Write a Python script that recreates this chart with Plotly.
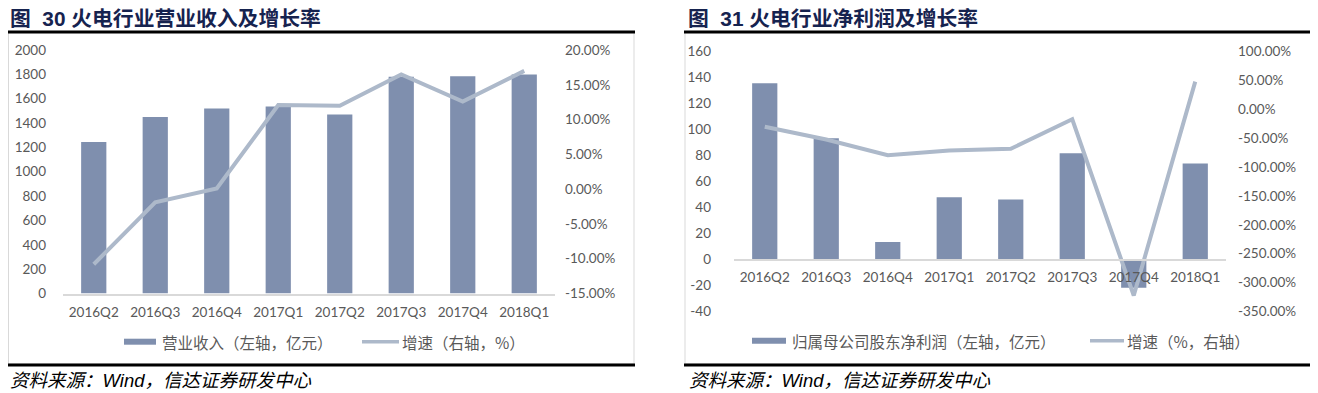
import plotly.graph_objects as go

# ---------------- data ----------------
categories = ["2016Q2", "2016Q3", "2016Q4", "2017Q1", "2017Q2", "2017Q3", "2017Q4", "2018Q1"]
revenue = [1245, 1450, 1520, 1535, 1470, 1780, 1785, 1798]          # 亿元
revenue_growth = [-10.8, -1.9, 0.1, 12.1, 12.0, 16.5, 12.6, 17.0]     # %
profit = [135.2, 93.0, 13.5, 47.7, 46.0, 81.5, -21.6, 73.6]          # 亿元
profit_growth = [-31, -53, -80, -72, -69, -18, -322, 47]             # %

rev_ticks = [0, 200, 400, 600, 800, 1000, 1200, 1400, 1600, 1800, 2000]
rev_growth_ticks = [-15, -10, -5, 0, 5, 10, 15, 20]
profit_ticks = [-40, -20, 0, 20, 40, 60, 80, 100, 120, 140, 160]
profit_growth_ticks = [-350, -300, -250, -200, -150, -100, -50, 0, 50, 100]

title_left = "图\u00a0\u00a030 火电行业营业收入及增长率"
title_right = "图\u00a0\u00a031 火电行业净利润及增长率"
legend_left = ["营业收入（左轴，亿元）", "增速（右轴，%）"]
legend_right = ["归属母公司股东净利润（左轴，亿元）", "增速（%，右轴）"]
source_text = "资料来源：Wind，信达证券研发中心"

# ---------------- helpers ----------------
# The page body has an 8px margin, so the figure is drawn 8px in and sized to fit the window.
OFF = 8
W, H = 1318 - OFF, 393 - OFF
def X(px):
    return (px - OFF) / W
def Y(py):
    return 1 - (py - OFF) / H

BAR = "#7F8FAE"
LINE = "#ADB9CA"
GRAY_TXT = "#595959"
AXIS = "#D9D9D9"
NAVY = "#16234F"

tickfont = dict(family="Lato, Liberation Sans, sans-serif", size=13.5, color=GRAY_TXT)

def num_label(v):
    return f"{v}".replace("\u2212", "-")

def pct_label(v):
    return f"{v:.2f}%"

fig = go.Figure()

fig.add_trace(go.Bar(x=categories, y=revenue, xaxis="x", yaxis="y",
                     marker=dict(color=BAR, line=dict(width=0)), name=legend_left[0]))
fig.add_trace(go.Scatter(x=categories, y=revenue_growth, xaxis="x", yaxis="y2", mode="lines",
                         line=dict(color=LINE, width=4), name=legend_left[1]))
fig.add_trace(go.Bar(x=categories, y=profit, xaxis="x2", yaxis="y3",
                     marker=dict(color=BAR, line=dict(width=0)), name=legend_right[0]))
fig.add_trace(go.Scatter(x=categories, y=profit_growth, xaxis="x2", yaxis="y4", mode="lines",
                         line=dict(color=LINE, width=4), name=legend_right[1]))

# left chart geometry (page pixels)
L_x0, L_x1 = 63, 555
L_ybot, L_ytop = 293.5, 50
# right chart geometry
R_x0, R_x1 = 734, 1226
R_ybot, R_ytop = 311.7, 50.9
R_zero = 259.5

common_y = dict(showgrid=False, zeroline=False, showline=False, ticks="", tickfont=tickfont,
                automargin=False)

fig.update_layout(
    width=W, height=H,
    margin=dict(l=0, r=0, t=0, b=0, autoexpand=False),
    paper_bgcolor="white", plot_bgcolor="rgba(0,0,0,0)",
    showlegend=False,
    bargap=0.59,
    xaxis=dict(domain=[X(L_x0), X(L_x1)], anchor="y", showline=True, linecolor=AXIS, linewidth=1.5,
               ticks="", showgrid=False, tickfont=tickfont, ticklabelstandoff=6, automargin=False),
    yaxis=dict(domain=[Y(L_ybot), Y(L_ytop)], range=[0, 2000], tickvals=rev_ticks,
               ticktext=[num_label(v) for v in rev_ticks], ticklabelstandoff=16, **common_y),
    yaxis2=dict(overlaying="y", side="right", anchor="x", range=[-15, 20], tickvals=rev_growth_ticks,
                ticktext=[pct_label(v) for v in rev_growth_ticks], ticklabelstandoff=9, **common_y),
    xaxis2=dict(domain=[X(R_x0), X(R_x1)], anchor="free", position=Y(R_zero), showline=True,
                linecolor=AXIS, linewidth=1.5, ticks="", showgrid=False, tickfont=tickfont,
                ticklabelstandoff=6, automargin=False),
    yaxis3=dict(domain=[Y(R_ybot), Y(R_ytop)], anchor="x2", range=[-40, 160], tickvals=profit_ticks,
                ticktext=[num_label(v) for v in profit_ticks], ticklabelstandoff=22, **common_y),
    yaxis4=dict(overlaying="y3", side="right", anchor="x2", range=[-350, 100],
                tickvals=profit_growth_ticks, ticktext=[pct_label(v) for v in profit_growth_ticks],
                ticklabelstandoff=11, **common_y),
)

shapes = []
# panel borders
for (bx0, bx1) in [(8.5, 634), (685, 1314)]:
    shapes.append(dict(type="rect", xref="paper", yref="paper", x0=X(bx0), x1=X(bx1), y0=Y(364), y1=Y(32),
                       line=dict(color="#D9D9D9", width=1), fillcolor="rgba(0,0,0,0)", layer="below"))
# thick black rules
for (lx0, lx1) in [(8, 635), (684, 1318)]:
    for ly in (32, 365):
        shapes.append(dict(type="line", xref="paper", yref="paper", x0=X(lx0), x1=X(lx1), y0=Y(ly), y1=Y(ly),
                           line=dict(color="black", width=3)))
# legend symbols
for (rx0, rx1, ly) in [(124, 156, 341.7), (752, 786, 340.7)]:
    shapes.append(dict(type="rect", xref="paper", yref="paper", x0=X(rx0), x1=X(rx1), y0=Y(ly + 3), y1=Y(ly - 3),
                       line=dict(width=0), fillcolor=BAR))
for (lx0, lx1, ly) in [(362, 399, 341.7), (1090, 1124, 340.7)]:
    shapes.append(dict(type="line", xref="paper", yref="paper", x0=X(lx0), x1=X(lx1), y0=Y(ly), y1=Y(ly),
                       line=dict(color=LINE, width=3.5)))
fig.update_layout(shapes=shapes)

ann = []
title_font = dict(family="Liberation Sans, Noto Sans CJK SC", size=20.8, color=NAVY)
ann.append(dict(text="<b>" + title_left + "</b>", x=X(8), y=Y(18), font=title_font))
ann.append(dict(text="<b>" + title_right + "</b>", x=X(686), y=Y(18), font=title_font))
legend_font = dict(family="Noto Sans CJK SC", size=15.5, color=GRAY_TXT)
ann.append(dict(text=legend_left[0], x=X(160), y=Y(341.7), font=legend_font))
ann.append(dict(text=legend_left[1], x=X(400), y=Y(341.7), font=legend_font))
ann.append(dict(text=legend_right[0], x=X(790), y=Y(340.7), font=legend_font))
ann.append(dict(text=legend_right[1], x=X(1125), y=Y(340.7), font=legend_font))
src_font = dict(family="Liberation Sans, Noto Sans CJK SC", size=18.5, color="black")
ann.append(dict(text="<i>" + source_text + "</i>", x=X(8), y=Y(380), font=src_font))
ann.append(dict(text="<i>" + source_text + "</i>", x=X(687), y=Y(380), font=src_font))
for a in ann:
    a.update(xref="paper", yref="paper", xanchor="left", yanchor="middle", showarrow=False)
fig.update_layout(annotations=ann)

fig.write_html("out.html")
